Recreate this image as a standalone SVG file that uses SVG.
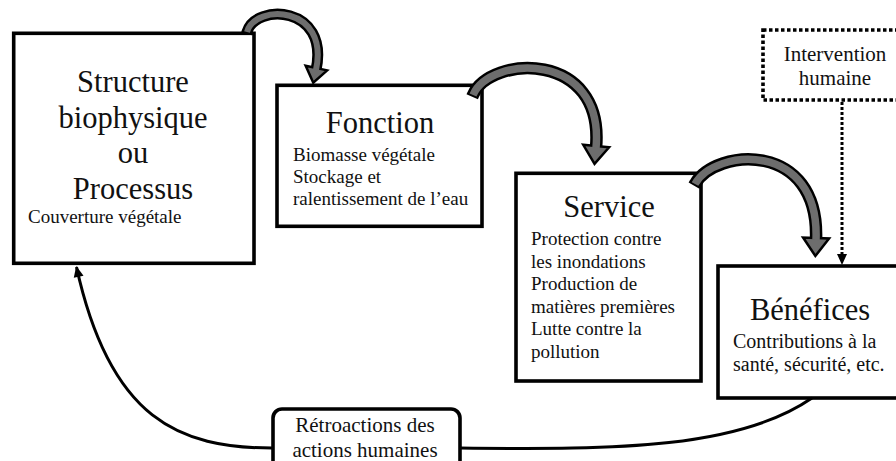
<svg xmlns="http://www.w3.org/2000/svg" width="896" height="461" viewBox="0 0 896 461">
<style>
.box{fill:#fff;stroke:#000;stroke-width:3.6}
.dot{fill:#fff;stroke:#000;stroke-width:3.6;stroke-dasharray:3.5 2.5}
.t{font-family:"Liberation Serif","Times New Roman",serif;fill:#111}
.title{font-size:30.5px;text-anchor:middle}
.body{font-size:19px}
.body20{font-size:20px}
.lab{font-size:21px;text-anchor:middle}
.bandK{fill:none;stroke:#000;stroke-linecap:butt}
.bandG{fill:none;stroke:#6d6d6d;stroke-linecap:butt}
.fb{fill:none;stroke:#000;stroke-width:3}
</style>
<defs>
<marker id="bighead" markerUnits="userSpaceOnUse" markerWidth="30" markerHeight="30" refX="2" refY="0" orient="auto" overflow="visible">
<path d="M0,-13 L18,0 L0,13 Z" fill="#6d6d6d" stroke="#000" stroke-width="2.5"/>
</marker>
<marker id="midhead" markerUnits="userSpaceOnUse" markerWidth="30" markerHeight="30" refX="2" refY="0" orient="auto" overflow="visible">
<path d="M0,-11 L15,0 L0,11 Z" fill="#6d6d6d" stroke="#000" stroke-width="2.5"/>
</marker>
<marker id="thin" markerUnits="userSpaceOnUse" markerWidth="20" markerHeight="20" refX="10" refY="0" orient="auto" overflow="visible">
<path d="M0,-5 L11,0 L0,5 Z" fill="#000"/>
</marker>
</defs>

<g id="node-structure">
<rect class="box" x="13.7" y="33.3" width="240.3" height="230"/>
<text class="t title" x="133" y="92">Structure</text>
<text class="t title" x="133" y="128">biophysique</text>
<text class="t title" x="133" y="163">ou</text>
<text class="t title" x="133" y="199">Processus</text>
<text class="t body" x="28" y="223">Couverture végétale</text>
</g>

<g id="node-fonction">
<rect class="box" x="277" y="85.3" width="205" height="141"/>
<text class="t title" x="380" y="133">Fonction</text>
<text class="t body" x="293" y="161">Biomasse végétale</text>
<text class="t body" x="293" y="183">Stockage et</text>
<text class="t body" x="293" y="205">ralentissement de l’eau</text>
</g>

<g id="node-service">
<rect class="box" x="516" y="173.3" width="185" height="207.7"/>
<text class="t title" x="609" y="217">Service</text>
<text class="t body" x="531" y="245">Protection contre</text>
<text class="t body" x="531" y="267.5">les inondations</text>
<text class="t body" x="531" y="290">Production de</text>
<text class="t body" x="531" y="312.5">matières premières</text>
<text class="t body" x="531" y="335">Lutte contre la</text>
<text class="t body" x="531" y="357.5">pollution</text>
</g>

<g id="node-benefices">
<rect class="box" x="718" y="266" width="185" height="132"/>
<text class="t title" x="810" y="320">Bénéfices</text>
<text class="t body20" x="733" y="348">Contributions à la</text>
<text class="t body20" x="733" y="371">santé, sécurité, etc.</text>
</g>

<g id="node-intervention">
<rect class="dot" x="763" y="30" width="150" height="70"/>
<text class="t lab" x="835" y="61">Intervention</text>
<text class="t lab" x="835" y="85">humaine</text>
</g>

<g id="node-retroactions">
<rect class="box" x="273" y="409" width="187" height="70" rx="9"/>
<text class="t lab" x="365" y="432">Rétroactions des</text>
<text class="t lab" x="365" y="457">actions humaines</text>
</g>

<g id="connectors">
<path class="bandK" stroke-width="11" d="M246.5,33.9 L247,32 C255,3 330,5 316,70" marker-end="url(#midhead)"/>
<path class="bandG" stroke-width="6" d="M247,32 C255,3 330,5 316,70"/>

<path class="bandK" stroke-width="12.5" d="M472.2,96.8 L473,95 C490,55 605,50 596,148" marker-end="url(#bighead)"/>
<path class="bandG" stroke-width="7.5" d="M473,95 C490,55 605,50 596,148"/>

<path class="bandK" stroke-width="12.5" d="M694,185.7 L695,184 C715,148 820,140 816,240" marker-end="url(#bighead)"/>
<path class="bandG" stroke-width="7.5" d="M695,184 C715,148 820,140 816,240"/>

<path fill="none" stroke="#000" stroke-width="3" stroke-dasharray="3 2" d="M842,102 L842,255"/>
<path d="M837,254 L847,254 L842,265 Z" fill="#000"/>

<path class="fb" d="M272,448 C180,448 110,420 76.5,267" marker-end="url(#thin)"/>
<path class="fb" d="M460,448 C620,450 740,448 812,398"/>
</g>
</svg>
